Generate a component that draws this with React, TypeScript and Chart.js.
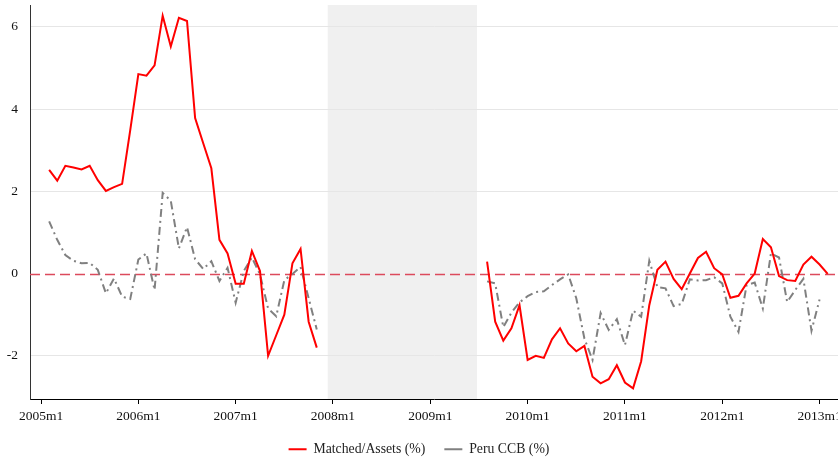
import React, { useEffect, useRef } from "react";
import { Chart, registerables } from "chart.js";

Chart.register(...registerables);

// Months since 2005m1 (0 = 2005m1)
const months: number[] = Array.from({ length: 97 }, (_, i) => i + 1);

// Matched/Assets (%) for months 1..97 (null = no data)
const matchedAssets: (number | null)[] = [
  2.52, 2.26, 2.62, 2.58, 2.53, 2.62, 2.27, 2.01, 2.10, 2.18, 3.49, 4.85,
  4.81, 5.06, 6.27, 5.52, 6.22, 6.14, 3.78, 3.17, 2.56, 0.82, 0.49, -0.25,
  -0.25, 0.55, 0.06, -2.0, -1.5, -1.0, 0.25, 0.60, -1.17, -1.80,
  null, null, null, null, null, null, null, null, null, null, null, null,
  null, null, null, null, null, null, null, null,
  0.29, -1.17, -1.63, -1.33, -0.77, -2.10, -2.0, -2.05, -1.60, -1.33, -1.70,
  -1.89, -1.76, -2.51, -2.67, -2.57, -2.23, -2.65, -2.79, -2.13, -0.77, 0.09,
  0.29, -0.13, -0.38, 0.0, 0.38, 0.53, 0.13, -0.02, -0.59, -0.54, -0.24, 0.0,
  0.84, 0.64, -0.06, -0.16, -0.18, 0.22, 0.41, 0.22, -0.01,
];

// Peru CCB (%) for months 1..97
const peruCCB: (number | null)[] = [
  1.27, 0.82, 0.45, 0.31, 0.25, 0.26, 0.09, -0.48, -0.12, -0.56, -0.62, 0.34,
  0.49, -0.40, 1.96, 1.77, 0.61, 1.13, 0.35, 0.11, 0.30, -0.18, 0.14, -0.71,
  0.06, 0.39, -0.02, -0.85, -1.04, -0.16, -0.01, 0.16, -0.60, -1.36,
  null, null, null, null, null, null, null, null, null, null, null, null,
  null, null, null, null, null, null, null, null,
  -0.19, -0.24, -1.30, -0.95, -0.70, -0.55, -0.45, -0.43, -0.28, -0.14, -0.02,
  -0.60, -1.58, -2.10, -0.96, -1.37, -1.11, -1.74, -0.90, -1.05, 0.31, -0.33,
  -0.36, -0.79, -0.74, -0.14, -0.17, -0.16, -0.09, -0.24, -1.05, -1.42, -0.28,
  -0.22, -0.85, 0.49, 0.39, -0.69, -0.40, -0.13, -1.39, -0.63, null,
];

const xTickValues: number[] = [0, 12, 24, 36, 48, 60, 72, 84, 96];
const xTickLabels: string[] = [
  "2005m1", "2006m1", "2007m1", "2008m1", "2009m1",
  "2010m1", "2011m1", "2012m1", "2013m1",
];
const yTickValues: number[] = [-2, 0, 2, 4, 6];

// Shaded period (months since 2005m1)
const shadeStart = 35.35;
const shadeEnd = 53.76;

const FONT = "'Liberation Serif', 'Times New Roman', serif";

const shadePlugin = {
  id: "shade",
  beforeDraw(chart: any) {
    const { ctx, chartArea, scales } = chart;
    const x0 = scales.x.getPixelForValue(shadeStart);
    const x1 = scales.x.getPixelForValue(shadeEnd);
    ctx.save();
    ctx.fillStyle = "#f0f0f0";
    ctx.fillRect(x0, chartArea.top, x1 - x0, chartArea.bottom - chartArea.top);
    ctx.restore();
  },
  beforeDatasetsDraw(chart: any) {
    const { ctx, chartArea, scales } = chart;
    const y = Math.round(scales.y.getPixelForValue(0)) + 0.5;
    ctx.save();
    ctx.strokeStyle = "#dc4a5c";
    ctx.lineWidth = 1.5;
    ctx.setLineDash([10, 5]);
    ctx.beginPath();
    ctx.moveTo(chartArea.left, y);
    ctx.lineTo(chartArea.right, y);
    ctx.stroke();
    ctx.restore();
  },
};

export default function App() {
  const ref = useRef<HTMLCanvasElement | null>(null);

  useEffect(() => {
    if (!ref.current) return;
    const chart = new Chart(ref.current, {
      type: "line",
      data: {
        datasets: [
          {
            label: "Matched/Assets (%)",
            data: months.map((m, i) => ({ x: m, y: matchedAssets[i] })),
            borderColor: "#ff0000",
            backgroundColor: "#ff0000",
            borderWidth: 2,
            pointRadius: 0,
            tension: 0,
            spanGaps: false,
          },
          {
            label: "Peru CCB (%)",
            data: months.map((m, i) => ({ x: m, y: peruCCB[i] })),
            borderColor: "#808080",
            backgroundColor: "#808080",
            borderWidth: 2,
            borderDash: [8, 4, 2, 4],
            pointRadius: 0,
            tension: 0,
            spanGaps: false,
          },
        ],
      },
      options: {
        animation: false,
        responsive: false,
        maintainAspectRatio: false,
        layout: { padding: { top: 5, left: 0, right: 0, bottom: 0 } },
        plugins: {
          tooltip: { enabled: false },
          legend: {
            position: "bottom",
            labels: {
              usePointStyle: true,
              pointStyle: "line",
              pointStyleWidth: 18,
              boxHeight: 14,
              padding: 19,
              color: "#222",
              font: { family: FONT, size: 13.75 },
            },
          },
        },
        scales: {
          x: {
            type: "linear",
            min: -1.36,
            max: 98.27,
            afterBuildTicks: (scale: any) => {
              scale.ticks = xTickValues.map((v) => ({ value: v }));
            },
            afterFit: (scale: any) => {
              scale.height = 24.25;
              scale.paddingLeft = 0;
              scale.paddingRight = 0;
            },
            ticks: {
              autoSkip: false,
              maxRotation: 0,
              padding: 4,
              color: "#111",
              font: { family: FONT, size: 13.5 },
              callback: (v: any) => {
                const i = xTickValues.indexOf(Number(v));
                return i >= 0 ? xTickLabels[i] : "";
              },
            },
            grid: {
              display: true,
              drawOnChartArea: false,
              drawTicks: true,
              tickLength: 5,
              color: "#000",
              lineWidth: 1,
            },
            border: { display: true, color: "#000", width: 1 },
          },
          y: {
            type: "linear",
            min: -3.05,
            max: 6.53,
            afterBuildTicks: (scale: any) => {
              scale.ticks = yTickValues.map((v) => ({ value: v }));
            },
            afterFit: (scale: any) => {
              scale.width = 30;
              scale.paddingTop = 0;
              scale.paddingBottom = 0;
            },
            ticks: {
              padding: 12,
              color: "#111",
              font: { family: FONT, size: 13.5 },
              callback: (v: any) => String(v),
            },
            grid: {
              drawTicks: false,
              color: (c: any) => (c.tick && c.tick.value === 0 ? "rgba(0,0,0,0)" : "#e6e6e6"),
              lineWidth: 1,
            },
            border: { display: true, color: "#333", width: 1 },
          },
        },
      },
      plugins: [shadePlugin],
    });
    return () => chart.destroy();
  }, []);

  return (
    <div
      style={{
        position: "fixed",
        left: 0,
        top: 0,
        width: 838,
        height: 461,
        overflow: "hidden",
        background: "#fff",
      }}
    >
      <canvas ref={ref} width={838} height={466} style={{ width: 838, height: 466, display: "block" }} />
    </div>
  );
}
